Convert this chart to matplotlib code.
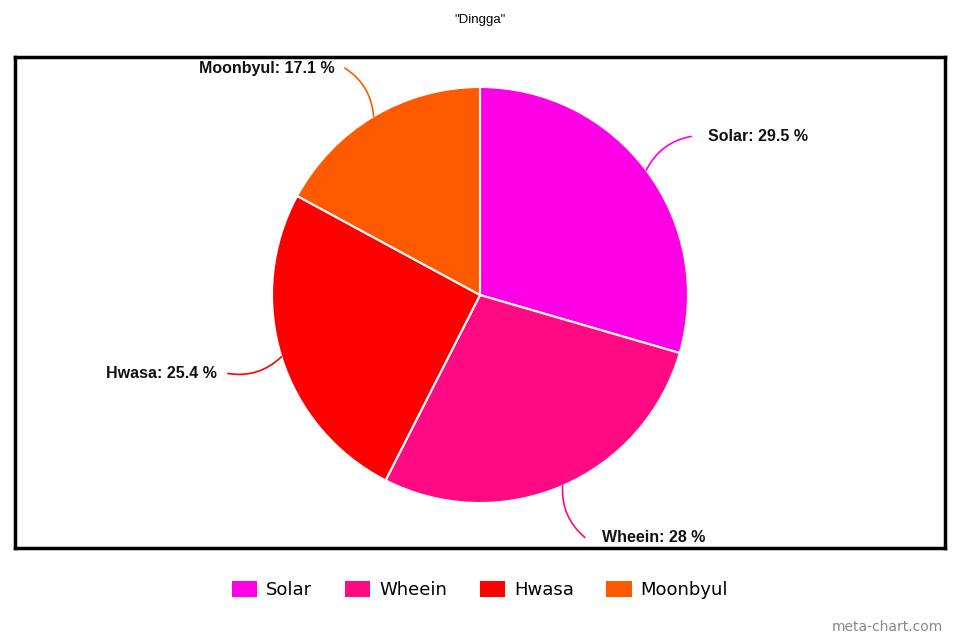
import numpy as np
import matplotlib
matplotlib.use("Agg")
import matplotlib.pyplot as plt
from matplotlib.patches import Patch

# data
names = ['Solar', 'Wheein', 'Hwasa', 'Moonbyul']
shares = [29.5, 28, 25.4, 17.1]
share_txt = ['29.5', '28', '25.4', '17.1']
colors = ['#FF00E6', '#FF0A82', '#FF0000', '#FF5A00']

W, H = 960, 640
fig = plt.figure(figsize=(9.6, 6.4), dpi=100)

# frame box
box = fig.add_axes([15 / W, 1 - 548 / H, 930 / W, 491 / H])
box.set_xticks([])
box.set_yticks([])
for s in box.spines.values():
    s.set_linewidth(2.5)
    s.set_color('black')

# pie area (center 480,295 radius 208 px)
cx, cy, r = 480, 295, 208
ax = fig.add_axes([(cx - r) / W, 1 - (cy + r) / H, 2 * r / W, 2 * r / H])
wedges, _ = ax.pie(shares, colors=colors, startangle=90, counterclock=False,
                   radius=1, wedgeprops=dict(edgecolor='white', linewidth=1.5))
ax.set_xlim(-1, 1)
ax.set_ylim(-1, 1)
ax.axis('off')

for w, n, t, c in zip(wedges, names, share_txt, colors):
    mid = np.deg2rad((w.theta1 + w.theta2) / 2)
    x0, y0 = np.cos(mid), np.sin(mid)
    x1, y1 = 1.27 * x0, 1.27 * y0
    right = x0 > 0
    rad = 0.25 if right else -0.25
    if y0 < 0:
        rad = -rad
    ax.annotate('', xy=(x0, y0), xytext=(x1, y1),
                arrowprops=dict(arrowstyle='-', color=c, lw=1.2,
                                connectionstyle='arc3,rad=%s' % rad,
                                shrinkA=0, shrinkB=0),
                annotation_clip=False)
    ax.text(x1 + (0.08 if right else -0.05), y1, '%s: %s %%' % (n, t),
            ha='left' if right else 'right', va='center',
            fontsize=11.5, fontweight='bold', family='Liberation Sans',
            color='#111111')

fig.text(0.5, 1 - 20 / H, '"Dingga"', ha='center', va='center',
         fontsize=9.5, family='Liberation Sans')

handles = [Patch(facecolor=c, edgecolor='none') for c in colors]
fig.legend(handles, names, loc='center', bbox_to_anchor=(0.5, 1 - 590 / H),
           ncol=4, frameon=False, handlelength=1.4,
           handleheight=1.0, handletextpad=0.5, columnspacing=1.8,
           prop={'family': 'DejaVu Sans', 'size': 13})

fig.text(943 / W, 1 - 627 / H, 'meta-chart.com', ha='right', va='center',
         fontsize=10, color='#888888', family='DejaVu Sans')

fig.savefig('out.png', dpi=100)
